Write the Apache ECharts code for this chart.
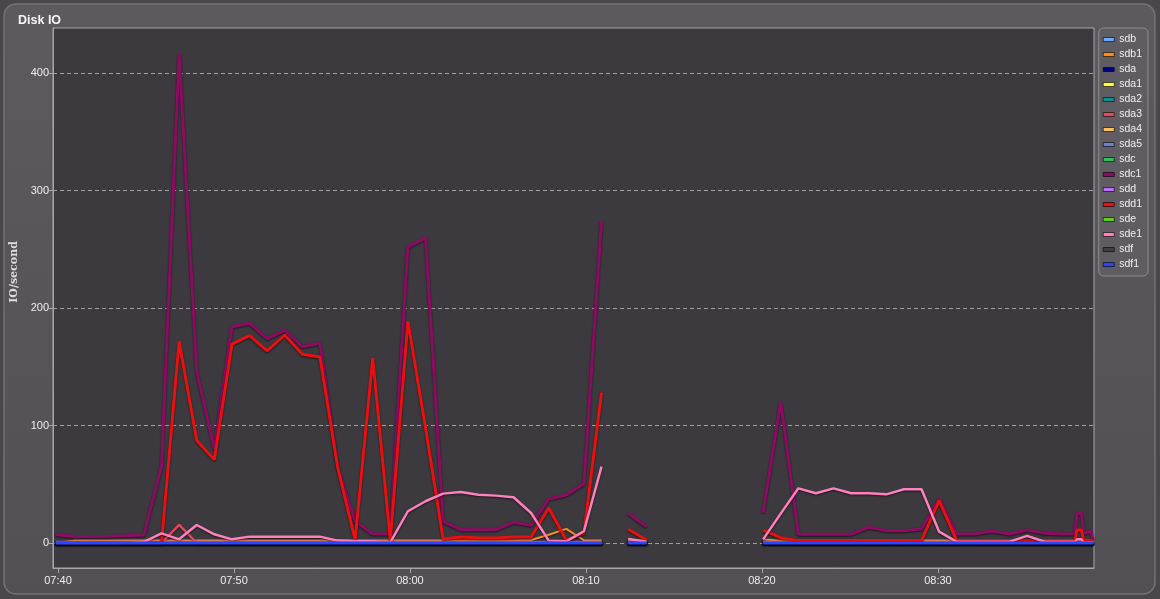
<!DOCTYPE html>
<html><head><meta charset="utf-8">
<script src="https://cdn.jsdelivr.net/npm/echarts@6/dist/echarts.min.js"></script>
<style>html,body{margin:0;padding:0;background:#49474b;}#c{width:1160px;height:599px;}</style>
</head><body><div id="c"></div>
<script>
// sample times (null values mark the gaps where no data was collected)
const times = [
 '07:39:53','07:40:53','07:41:53','07:42:53','07:43:53','07:44:53','07:45:53','07:46:53','07:47:53','07:48:53',
 '07:49:53','07:50:53','07:51:53','07:52:53','07:53:53','07:54:53','07:55:53','07:56:53','07:57:53','07:58:53',
 '07:59:53','08:00:53','08:01:53','08:02:53','08:03:53','08:04:53','08:05:53','08:06:53','08:07:53','08:08:53',
 '08:09:53','08:10:53',
 '08:11:40',
 '08:12:24','08:13:26',
 '08:17:00',
 '08:20:04','08:21:04','08:22:04','08:23:04','08:24:04','08:25:04','08:26:04','08:27:04','08:28:04','08:29:04',
 '08:30:04','08:31:04','08:32:04','08:33:04','08:34:04','08:35:04','08:36:04','08:37:04',
 '08:37:47','08:37:54','08:38:09','08:38:16','08:38:40','08:38:50'
];
const sdc1 = [7.2,5.5,5.5,5.8,6.2,6.8,65.6,416,146,80,184,187,174,181,167,170,65,18.4,7.7,7.7,252,259.6,18.4,11.3,11.3,11.3,17.6,15,37.4,40.8,50.5,273.8,
 null, 25.3,13.9, null,
 25.8,120,7.4,7.4,7.4,7.4,13.4,10.5,10.5,11.8,37.5,7.7,7.7,10.2,7.7,11,8.2,7.7, 7.7,25.3,25.3,8,10,2.5];
const sdd1 = [0,0,0,0,0,0,0,171.5,87.2,70.8,169.2,176.4,163.5,177,160.6,158.3,65,2.5,157.4,2.3,188.7,98,3.4,5,4.3,4.3,5,5,29.8,2.3,8.5,128,
 null, 11.7,2.5, null,
 11,4.5,2,2,2,2,2,2,2,2,36,2,2,2,2,2,2,2, 2,11,11,2.5,2,1];
const sde1 = [0,0,0,0,0,1,8.2,3.1,15.3,7.4,3.1,5.4,5.4,5.4,5.4,5.4,2,1.5,1.5,0.5,27,35.5,42,43.4,41,40.3,38.9,25.5,2,1.4,10,65,
 null, 3.4,1, null,
 3.1,25,46.5,42.3,46.5,42.3,42.3,41.4,45.7,45.7,9.6,1,1,1,1,6,1,1, 1,3.1,3.1,0.5,0.5,0.5];
const sdb1 = [0,2,2,2,2,2,2,2,2,2,2,2,2,2,2,2,2,2,2,2,2,2,2,2,2,2,2,2.5,7,12,2.3,2,
 null, 2,2, null,
 3,2,2,2,2,2,2,2,2,2,2,2,2,2,2,2,2,2, 2,2,2,2,2,2];
const sda3 = [0,0,0,0,0,0,0,15.3,0,0,0,0,0,0,0,0,0,0,0,0,0,0,0,0,0,0,0,0,0,0,0,0,
 null, 0,0, null,
 0,0,0,0,0,0,0,0,0,0,0,0,0,0,0,0,0,0, 0,0,0,0,0,0];
const sdd = [1,1,1,1,1,1,1,1,1,1,1,1,1,1,1,1,1,1,1,1,1,1,1,1,1,1,1,1,1,1,1,1,
 null, 1,1, null,
 1,1,1,1,1,1,1,1,1,1,1,1,1,1,1,1,1,1, 1,1,1,1,1,1];
const idle = [0,0,0,0,0,0,0,0,0,0,0,0,0,0,0,0,0,0,0,0,0,0,0,0,0,0,0,0,0,0,0,0,
 null, 0,0, null,
 0,0,0,0,0,0,0,0,0,0,0,0,0,0,0,0,0,0, 0,0,0,0,0,0];
const sdf1 = idle;
const yTicks = [0,100,200,300,400];
const xTickLabels = ['07:40','07:50','08:00','08:10','08:20','08:30'];
const names = ['sdb','sdb1','sda','sda1','sda2','sda3','sda4','sda5','sdc','sdc1','sdd','sdd1','sde','sde1','sdf','sdf1'];
const colors = ['#70a8ff','#ff8c1a','#000080','#ffff40','#109090','#e04a5a','#ffc060','#7080d0','#30c060','#8c0c62','#c070ff','#e81010','#60d020','#ff80bc','#404040','#2846ff'];
const seriesValues = [idle,sdb1,idle,idle,idle,sda3,idle,idle,idle,sdc1,sdd,sdd1,idle,sde1,idle,sdf1];
const widths = [2,2,2,2,2,2.5,2,2,2,3,2,3,2,2.5,2,3];

// seconds since midnight
function ts(t){ const p=t.split(':').map(Number); return p[0]*3600+p[1]*60+(p[2]||0); }
function pts(vals){ return times.map((t,i)=>[ts(t), vals[i]==null ? '-' : vals[i]]); }
const xTicks = xTickLabels.map(ts);
function hhmm(v){ const h=Math.floor(v/3600), m=Math.round((v%3600)/60); return String(h).padStart(2,'0')+':'+String(m).padStart(2,'0'); }

const chart = echarts.init(document.getElementById('c'));
chart.setOption({
  animation:false,
  backgroundColor:'#49474b',
  graphic:[{type:'rect', z:-100, silent:true,
    shape:{x:4,y:4,width:1151,height:590,r:12},
    style:{fill:new echarts.graphic.LinearGradient(0,0,0,1,[{offset:0,color:'#5c5a5e'},{offset:1,color:'#525054'}]), stroke:'#747276', lineWidth:1.5}}],
  title:{text:'Disk IO', left:13, top:9, textStyle:{color:'#f6f6f6', fontSize:12.5, fontWeight:'bold', fontFamily:'Liberation Sans'}},
  grid:{left:53, right:66, top:28, bottom:31, show:true, backgroundColor:'#3c3a3e', borderColor:'#a8a6aa', borderWidth:1},
  legend:{orient:'vertical', right:12, top:28, padding:[5,6,5,4], itemGap:2, itemWidth:11, itemHeight:4, icon:'rect',
    backgroundColor:'#5f5d62', borderColor:'#8e8c90', borderWidth:1, borderRadius:5, selectedMode:false,
    itemStyle:{borderColor:'rgba(0,0,0,0.6)', borderWidth:1},
    textStyle:{color:'#f0f0f0', fontSize:10.5, fontFamily:'Liberation Sans', lineHeight:13},
    data:names},
  xAxis:{type:'value', min:ts('07:39:43'), max:ts('08:38:52'),
    axisLine:{show:true, onZero:false, lineStyle:{color:'#a8a6aa'}},
    axisTick:{show:true, length:5, customValues:xTicks, lineStyle:{color:'#a8a6aa'}},
    axisLabel:{customValues:xTicks, color:'#eeeeee', fontSize:11, fontFamily:'Liberation Sans', formatter:hhmm, margin:7},
    splitLine:{show:false}},
  yAxis:{type:'value', min:-21.3, max:438.3, name:'IO/second', nameLocation:'middle', nameGap:32, nameRotate:90,
    nameTextStyle:{color:'#dddddd', fontSize:11, fontWeight:'bold', fontFamily:'DejaVu Serif', padding:[0,0,0,52]},
    axisLine:{show:true, lineStyle:{color:'#a8a6aa'}},
    axisTick:{show:true, length:4, customValues:yTicks, lineStyle:{color:'#a8a6aa'}},
    axisLabel:{customValues:yTicks, color:'#eeeeee', fontSize:11, fontFamily:'Liberation Sans', margin:4},
    splitLine:{show:true, lineStyle:{color:'#a09ea2', type:[4,3], width:1}}},
  series: names.map((n,i)=>({
    name:n, type:'line', data:pts(seriesValues[i]), showSymbol:false, symbol:'none', connectNulls:false,
    color:colors[i],
    lineStyle:{color:colors[i], width:widths[i], shadowColor:'rgba(0,0,0,0.6)', shadowBlur:2, shadowOffsetY:1},
    emphasis:{disabled:true}
  }))
});
</script></body></html>
